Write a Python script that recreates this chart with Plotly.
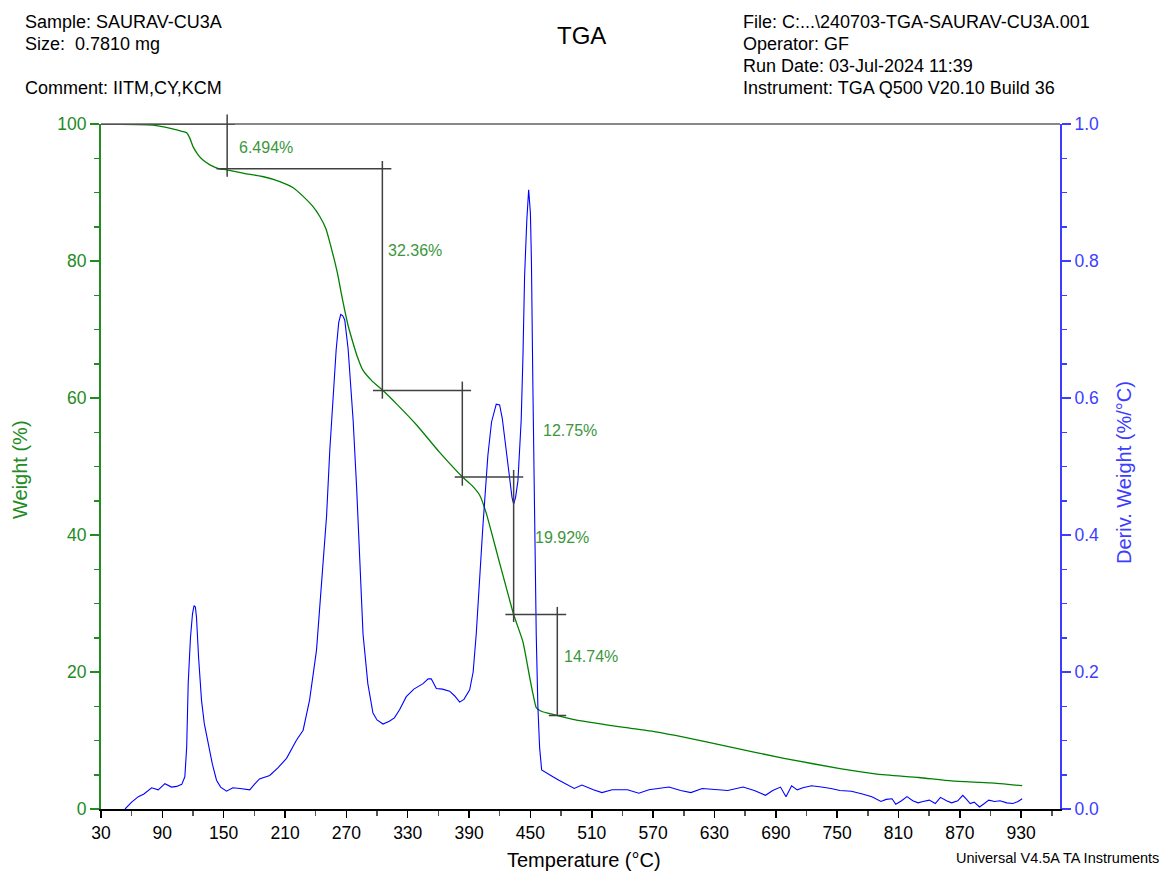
import plotly.graph_objects as go

# ---------------- data ----------------
weight_temp = [30, 81, 100, 110, 114, 117, 120, 125, 130, 137, 145, 153, 170, 189, 205, 218, 228,
               237, 244, 250, 254, 258, 262, 265, 268.4, 272, 276.6, 281, 286, 295, 305, 320,
               338.5, 361, 383.4, 393, 400.4, 406.8, 413, 419.9, 427, 433.6, 442.7, 449.2, 452.5,
               455.7, 460, 467, 475, 498, 547, 571, 600, 643.7, 698, 752.8, 789, 830, 862, 900, 931]
weight_pct = [100, 99.85, 99.3, 98.9, 98.7, 97.9, 96.7, 95.5, 94.7, 94.0, 93.5, 93.3, 92.8, 92.3,
              91.6, 90.7, 89.4, 88.0, 86.5, 84.7, 82.6, 80.3, 77.7, 75.3, 72.8, 70.4, 68.0, 65.9,
              64.1, 62.5, 61.2, 59.0, 56.1, 52.1, 48.5, 47.2, 45.8, 43.2, 39.8, 35.9, 32.0, 28.4,
              24.4, 19.3, 16.8, 14.8, 14.3, 14.0, 13.7, 12.9, 11.8, 11.3, 10.5, 9.1, 7.4, 5.9,
              5.1, 4.6, 4.1, 3.8, 3.4]

deriv_temp = [53.5, 60, 66.5, 72, 79.5, 86, 92.5, 99, 104, 109,
              112, 113.8, 115.3, 117.5, 119.5, 121, 122.3, 123.4, 125.5, 128.3,
              131, 135, 139, 143, 147, 152.8, 159, 166, 175.5, 180,
              185, 195, 203, 211.5, 221, 227.7, 234, 240.8, 244, 247,
              250.6, 253.8, 257, 260, 262.5, 264.5, 266.5, 268.4, 271.7, 276.6,
              280, 286.3, 291, 296, 300, 305.8, 312, 317, 322, 328.6,
              336, 345, 350, 353, 358, 364, 371, 376, 380.8, 385,
              390.6, 394, 397, 400, 403.5, 408.4, 412, 416.6, 419.9, 422.5,
              424.8, 427.3, 429.7, 432, 433.6, 435.5, 437.8, 439.5, 441, 442.7,
              444.3, 446.5, 448.3, 450, 451, 452.4, 454, 455.7, 457.3, 459,
              461, 463.5, 466.6, 472, 477.9, 485, 492.9, 500.4, 511.6, 520,
              530, 545, 556, 566, 585.5, 597, 607, 618, 629, 643,
              658, 669, 680, 687, 694.6, 700, 705.5, 711, 716.5, 725,
              734.6, 744, 752.8, 764, 774.7, 784, 792.9, 798, 803.7, 807.4,
              813, 818.3, 824, 829.2, 834, 840.2, 846, 851.1, 857, 862,
              868, 872.9, 876, 880.2, 884, 889.3, 894, 898.4, 904, 909.3,
              916, 922, 927, 931]
deriv_value = [0.0, 0.010, 0.018, 0.022, 0.031, 0.028, 0.037, 0.032, 0.033, 0.036,
               0.047, 0.09, 0.184, 0.25, 0.285, 0.297, 0.295, 0.28, 0.22, 0.159,
               0.125, 0.096, 0.065, 0.042, 0.032, 0.026, 0.031, 0.030, 0.028, 0.036,
               0.044, 0.049, 0.060, 0.074, 0.10, 0.115, 0.159, 0.232, 0.295, 0.344,
               0.427, 0.524, 0.60, 0.67, 0.71, 0.722, 0.72, 0.714, 0.672, 0.568,
               0.47, 0.255, 0.183, 0.14, 0.13, 0.124, 0.128, 0.133, 0.145, 0.164,
               0.175, 0.183, 0.19, 0.19, 0.176, 0.175, 0.172, 0.165, 0.156, 0.16,
               0.174, 0.20, 0.255, 0.33, 0.412, 0.516, 0.565, 0.591, 0.59, 0.57,
               0.541, 0.51, 0.479, 0.455, 0.445, 0.455, 0.479, 0.52, 0.568, 0.66,
               0.777, 0.86, 0.904, 0.87, 0.80, 0.62, 0.41, 0.255, 0.15, 0.09,
               0.057, 0.055, 0.052, 0.047, 0.042, 0.036, 0.030, 0.035, 0.028, 0.024,
               0.028, 0.028, 0.023, 0.028, 0.032, 0.027, 0.024, 0.030, 0.029, 0.027,
               0.032, 0.027, 0.020, 0.027, 0.032, 0.018, 0.034, 0.028, 0.031, 0.034,
               0.032, 0.030, 0.027, 0.026, 0.022, 0.018, 0.011, 0.014, 0.015, 0.007,
               0.012, 0.018, 0.012, 0.009, 0.011, 0.013, 0.008, 0.017, 0.012, 0.009,
               0.012, 0.020, 0.015, 0.008, 0.010, 0.003, 0.008, 0.013, 0.011, 0.012,
               0.009, 0.008, 0.011, 0.015]
assert len(deriv_temp) == len(deriv_value)
assert len(weight_temp) == len(weight_pct)

# step-analysis markers (TA Universal Analysis style)
step_levels = [100, 93.45, 61.1, 48.45, 28.4, 13.65]
step_level_from = [30, 143, 296, 376, 425.5, 468]
step_level_to = [161, 314, 392, 443, 485, 485]
step_vert_temp = [153.4, 305.2, 383.4, 433.6, 476.3]
step_vert_top = [101.4, 94.6, 62.4, 49.5, 29.5]
step_vert_bottom = [92.3, 59.9, 47.2, 27.3, 13.6]
step_labels = ["6.494%", "32.36%", "12.75%", "19.92%", "14.74%"]
step_label_temp = [163, 309, 460, 453, 481]
step_label_weight = [96.5, 81.5, 55.2, 39.6, 22.2]

x_ticks = list(range(30, 931, 60))
header_left = ["Sample: SAURAV-CU3A", "Size:  0.7810 mg", "", "Comment: IITM,CY,KCM"]
header_right = ["File: C:...\\240703-TGA-SAURAV-CU3A.001", "Operator: GF",
                "Run Date: 03-Jul-2024 11:39", "Instrument: TGA Q500 V20.10 Build 36"]

# ---------------- style ----------------
FONT = "Liberation Sans, Arial, sans-serif"
GREEN_AXIS = "#228b22"
GREEN_LINE = "#008000"
GREEN_LABEL = "#3c963c"
BLUE_AXIS = "#3d3dff"
BLUE_LINE = "#0000ff"
W, H = 1164, 872
ML, MR, MT, MB = 101, 104, 124, 63
PW, PH = W - ML - MR, H - MT - MB
X_RANGE = [30, 968]


def px_x(px):
    return (px - ML) / PW


def px_y(py):
    return (H - MB - py) / PH


fig = go.Figure()
fig.add_trace(go.Scatter(x=weight_temp, y=weight_pct, mode="lines",
                         line=dict(color=GREEN_LINE, width=1.3, shape="spline", smoothing=0.5),
                         yaxis="y", showlegend=False, hoverinfo="skip"))
fig.add_trace(go.Scatter(x=deriv_temp, y=deriv_value, mode="lines", line=dict(color=BLUE_LINE, width=1.1),
                         yaxis="y2", showlegend=False, hoverinfo="skip"))

shapes = []
# top frame
shapes.append(dict(type="line", xref="paper", yref="paper", x0=0, x1=1, y0=1, y1=1,
                   line=dict(color="#888888", width=2), layer="above"))
for lvl, a, b in zip(step_levels, step_level_from, step_level_to):
    shapes.append(dict(type="line", xref="x", yref="y", x0=a, x1=b, y0=lvl, y1=lvl,
                       line=dict(color="#404040", width=1.5), layer="above"))
for t, top, bot in zip(step_vert_temp, step_vert_top, step_vert_bottom):
    shapes.append(dict(type="line", xref="x", yref="paper", x0=t, x1=t, y0=top / 100.0, y1=bot / 100.0,
                       line=dict(color="#404040", width=1.5), layer="above"))

annotations = []
for txt, t, wv in zip(step_labels, step_label_temp, step_label_weight):
    annotations.append(dict(text=txt, x=t, y=wv, xref="x", yref="y", xanchor="left", yanchor="middle",
                            showarrow=False, font=dict(family=FONT, size=16, color=GREEN_LABEL)))
for i, line in enumerate(header_left):
    if line:
        annotations.append(dict(text=line, x=px_x(23), y=px_y(22 + 22 * i), xref="paper", yref="paper",
                                xanchor="left", yanchor="middle", showarrow=False,
                                font=dict(family=FONT, size=18, color="black")))
for i, line in enumerate(header_right):
    annotations.append(dict(text=line, x=px_x(741), y=px_y(22 + 22 * i), xref="paper", yref="paper",
                            xanchor="left", yanchor="middle", showarrow=False,
                            font=dict(family=FONT, size=18, color="black")))
annotations.append(dict(text="TGA", x=px_x(581), y=px_y(35), xref="paper", yref="paper",
                        xanchor="center", yanchor="middle", showarrow=False,
                        font=dict(family=FONT, size=24, color="black")))
annotations.append(dict(text="Weight (%)", x=px_x(20), y=px_y(470), xref="paper", yref="paper", textangle=-90,
                        xanchor="center", yanchor="middle", showarrow=False,
                        font=dict(family=FONT, size=20, color=GREEN_AXIS)))
annotations.append(dict(text="Deriv. Weight (%/°C)", x=px_x(1124), y=px_y(473), xref="paper", yref="paper",
                        textangle=-90, xanchor="center", yanchor="middle", showarrow=False,
                        font=dict(family=FONT, size=20, color=BLUE_AXIS)))
annotations.append(dict(text="Temperature (°C)", x=px_x(584), y=px_y(860), xref="paper", yref="paper",
                        xanchor="center", yanchor="middle", showarrow=False,
                        font=dict(family=FONT, size=20, color="black")))
annotations.append(dict(text="Universal V4.5A TA Instruments", x=px_x(1161), y=px_y(858), xref="paper",
                        yref="paper", xanchor="right", yanchor="middle", showarrow=False,
                        font=dict(family=FONT, size=14.5, color="black")))

fig.update_layout(
    width=W, height=H,
    margin=dict(l=ML, r=MR, t=MT, b=MB, pad=0),
    paper_bgcolor="white", plot_bgcolor="white",
    font=dict(family=FONT),
    xaxis=dict(range=X_RANGE, tickmode="array", tickvals=x_ticks, showgrid=False, zeroline=False,
               showline=True, linecolor="black", linewidth=2, ticks="outside", ticklen=7, tickwidth=1.5,
               tickcolor="black", tickfont=dict(family=FONT, size=17.5, color="black"),
               minor=dict(tick0=30, dtick=30, ticks="outside", ticklen=5, tickwidth=1.5,
                          tickcolor="#555555", showgrid=False)),
    yaxis=dict(range=[0, 100], tickmode="linear", tick0=0, dtick=20, showgrid=False, zeroline=False,
               showline=True, linecolor=GREEN_AXIS, linewidth=2, ticks="outside", ticklen=9, tickwidth=1.5,
               tickcolor=GREEN_AXIS, tickfont=dict(family=FONT, size=17.5, color=GREEN_AXIS),
               minor=dict(dtick=5, ticks="outside", ticklen=5, tickwidth=1.5, tickcolor=GREEN_AXIS,
                          showgrid=False)),
    yaxis2=dict(range=[0, 1.0], overlaying="y", side="right", tickmode="linear", tick0=0, dtick=0.2,
                tickformat=".1f", showgrid=False, zeroline=False, showline=True, linecolor=BLUE_AXIS,
                linewidth=2, ticks="outside", ticklen=9, tickwidth=1.5, tickcolor=BLUE_AXIS,
                tickfont=dict(family=FONT, size=17.5, color=BLUE_AXIS),
                minor=dict(dtick=0.05, ticks="outside", ticklen=5, tickwidth=1.5, tickcolor=BLUE_AXIS,
                           showgrid=False)),
    shapes=shapes,
    annotations=annotations,
    showlegend=False,
)

fig.write_html("out.html", config={"displayModeBar": False, "staticPlot": True},
               post_script="document.body.style.margin='0';document.body.style.padding='0';"
               "document.body.style.overflow='hidden';")
